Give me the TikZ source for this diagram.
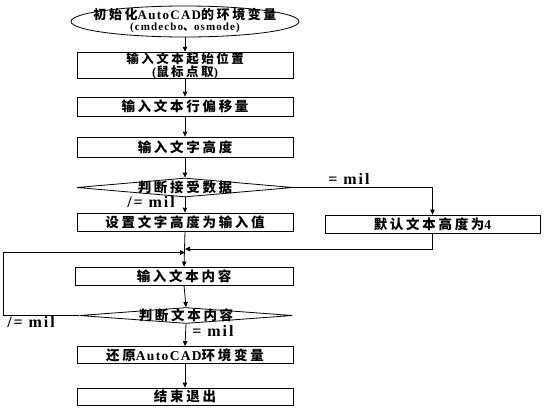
\documentclass[tikz,border=0pt]{standalone}
\usepackage{fontspec}
\setmainfont{Liberation Serif}[LetterSpace=10]
\newfontfamily\cjk{Noto Sans CJK SC}[LetterSpace=20]
\newfontfamily\labf{Liberation Serif}[LetterSpace=12]
\usetikzlibrary{shapes.geometric,arrows.meta}
\newcommand\zh[1]{{\cjk #1}}
\newcommand\ctr[1]{\smash{\makebox[0pt]{\raisebox{-0.38em}{#1}}}}
\begin{document}
\begin{tikzpicture}[x=1pt,y=-1pt,line width=0.8pt,
  box/.style={draw,rectangle,minimum width=216pt,minimum height=18pt,inner sep=0pt,
    font=\fontsize{13.5}{13.5}\selectfont\bfseries},
  dia/.style={draw,diamond,shape aspect=1,minimum width=216pt,minimum height=18pt,inner sep=0pt,
    font=\fontsize{13.5}{13.5}\selectfont\bfseries},
  lab/.style={font=\fontsize{16}{16}\selectfont\labf\bfseries,inner sep=0pt},
  arr/.style={-{Triangle[length=5pt,width=4.5pt]}}]
\useasboundingbox (0,0) rectangle (546,413);
\fill[white] (0,0) rectangle (546,413);

\node[draw,ellipse,minimum width=228pt,minimum height=31pt,inner sep=0pt,
  font=\fontsize{13}{13}\selectfont\bfseries] (e) at (185,21.5)
  {\smash{\makebox[0pt]{\raisebox{-3pt}{\begin{tabular}{@{}c@{}}\zh{初始化}AutoCAD\zh{的环境变量}\\[-1.5pt]
   {\fontsize{11}{11}\selectfont(cmdecbo\zh{、}osmode)}\end{tabular}}}}};
\node[box,minimum height=23pt,align=center,font=\fontsize{12.5}{10.5}\selectfont\bfseries] (b1) at (185,65.5)
  {\zh{输入文本起始位置}\\(\zh{鼠标点取})};
\node[box,minimum height=19pt] (b2) at (185,106.5) {\zh{输入文本行偏移量}};
\node[box,minimum height=20pt] (b3) at (185,147) {\zh{输入文字高度}};
\node[dia,minimum height=19pt] (d1) at (185,187.5) {\ctr{\zh{判断接受数据}}};
\node[box] (b4) at (185,222) {\zh{设置文字高度为输入值}};
\node[box,minimum width=215pt] (b5) at (432.5,224) {\zh{默认文本高度为}4};
\node[box,minimum width=218pt] (b6) at (184,276) {\zh{输入文本内容}};
\node[dia,minimum width=213pt,minimum height=16pt] (d2) at (186,315.5) {\ctr{\zh{判断文本内容}}};
\node[box,minimum height=17pt] (b7) at (185,355) {\zh{还原}AutoCAD\zh{环境变量}};
\node[box,minimum height=17pt] (b8) at (185,396.5) {\zh{结束退出}};

\node[lab] (l1) at (151,202) {/= mil};
\node[lab] (l2) at (349,179) {= mil};
\node[lab] (l3) at (31,322) {/= mil};
\node[lab] (l4) at (213,331) {= mil};

\coordinate (jr) at (185,249);
\coordinate (jl) at (185,252.5);
\coordinate (lx) at (3,315.5);

\draw[arr] (e.south) -- (b1.north);
\draw[arr] (b1.south) -- (b2.north);
\draw[arr] (b2.south) -- (b3.north);
\draw[arr] (b3.south) -- (d1.north);
\draw[arr] (d1.south) -- (b4.north);
\draw[arr] (d1.east) -| (b5.north);
\draw[arr] (b4.south) -- (b6.north);
\draw[arr] (b5.south) |- (jr);
\draw[arr] (d2.west) -- (lx) |- (jl);
\draw[arr] (b6.south) -- (d2.north);
\draw[arr] (d2.south) -- (b7.north);
\draw[arr] (b7.south) -- (b8.north);
\end{tikzpicture}
\end{document}
